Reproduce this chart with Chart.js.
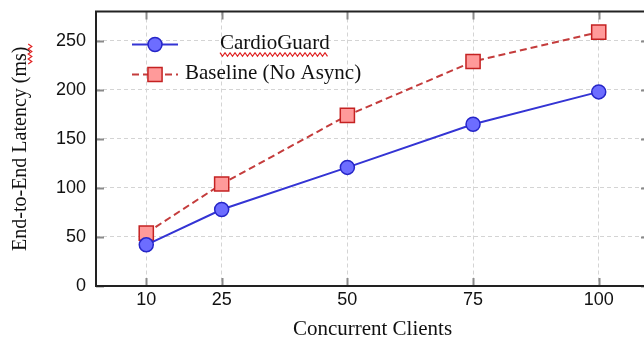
<!DOCTYPE html>
<html><head><meta charset="utf-8">
<script src="https://cdn.jsdelivr.net/npm/chart.js@4"></script>
<style>
html,body{margin:0;padding:0;overflow:hidden;background:#fff;width:644px;height:345px}
#wrap{position:absolute;left:0;top:0;width:662px;height:345px}
</style></head><body>
<div id="wrap"><canvas id="c" width="662" height="345"></canvas></div>
<script>
const clients = [10, 25, 50, 75, 100];
const cardioGuard = [42, 78, 121, 165, 198];
const baseline = [54, 104, 174, 229, 259];
const xTicks = [10, 25, 50, 75, 100];
const yTicks = [0, 50, 100, 150, 200, 250];
const seriesNames = ['CardioGuard', 'Baseline (No Async)'];
const xTitle = 'Concurrent Clients';
const yTitle = 'End-to-End Latency (ms)';

const SERIF = '"Liberation Serif", "Times New Roman", serif';
const SANS = '"Liberation Sans", Arial, sans-serif';

function wavy(ctx, x0, y0, len, vertical) {
  ctx.save();
  ctx.strokeStyle = '#e02020';
  ctx.lineWidth = 1.2;
  ctx.beginPath();
  const step = 2.5, amp = 1.8;
  for (let i = 0; i <= len / step; i++) {
    const d = i * step;
    const o = (i % 2 === 0) ? -amp : amp;
    const px = vertical ? x0 + o : x0 + d;
    const py = vertical ? y0 - d : y0 + o;
    if (i === 0) ctx.moveTo(px, py); else ctx.lineTo(px, py);
  }
  ctx.stroke();
  ctx.restore();
}

const decor = {
  id: 'decor',
  afterDraw(chart) {
    const ctx = chart.ctx;
    const a = chart.chartArea;
    const xs = chart.scales.x, ys = chart.scales.y;
    ctx.save();
    // inward tick marks
    ctx.strokeStyle = '#8a8a8a';
    ctx.lineWidth = 2;
    const tl = 8;
    ctx.beginPath();
    xTicks.forEach(v => {
      const px = Math.round(xs.getPixelForValue(v)) + 0.5;
      ctx.moveTo(px, a.bottom); ctx.lineTo(px, a.bottom - tl);
      ctx.moveTo(px, a.top); ctx.lineTo(px, a.top + tl);
    });
    yTicks.forEach(v => {
      const py = Math.round(ys.getPixelForValue(v)) + 0.5;
      ctx.moveTo(a.left, py); ctx.lineTo(a.left + tl, py);
      ctx.moveTo(a.right, py); ctx.lineTo(a.right - tl, py);
    });
    ctx.stroke();
    // spines
    ctx.strokeStyle = '#222';
    ctx.lineWidth = 2;
    ctx.strokeRect(a.left, a.top, a.right - a.left, a.bottom - a.top);

    // legend
    const ds = chart.data.datasets;
    const lx = a.left + 36, lw = 46;
    const rows = [a.top + 33, a.top + 63];
    ds.forEach((d, i) => {
      const y = rows[i];
      ctx.save();
      ctx.strokeStyle = d.borderColor;
      ctx.lineWidth = d.borderWidth;
      ctx.setLineDash(d.borderDash || []);
      ctx.beginPath();
      ctx.moveTo(lx, y); ctx.lineTo(lx + lw, y);
      ctx.stroke();
      ctx.setLineDash([]);
      ctx.fillStyle = d.pointBackgroundColor;
      ctx.strokeStyle = d.pointBorderColor;
      ctx.lineWidth = d.pointBorderWidth;
      Chart.helpers.drawPoint(ctx, {pointStyle: d.pointStyle, radius: d.pointRadius, rotation: 0, borderWidth: d.pointBorderWidth}, lx + lw / 2, y);
      ctx.restore();
    });
    ctx.fillStyle = '#111';
    ctx.font = '21px ' + SERIF;
    ctx.textBaseline = 'middle';
    ctx.fillText(seriesNames[0], a.left + 124, rows[0] - 1);
    ctx.fillText(seriesNames[1], a.left + 89, rows[1] - 1);
    const w0 = ctx.measureText(seriesNames[0]).width;
    wavy(ctx, a.left + 124, rows[0] + 10, w0, false);
    // wavy under "ms" of y title
    wavy(ctx, 30, 64, 22, true);
    ctx.restore();
  }
};

new Chart(document.getElementById('c'), {
  type: 'line',
  data: {
    datasets: [
      {
        label: seriesNames[0],
        data: clients.map((x, i) => ({x, y: cardioGuard[i]})),
        borderColor: '#3434d4',
        borderWidth: 2,
        pointStyle: 'circle',
        pointRadius: 7,
        pointBackgroundColor: '#6d6dff',
        pointBorderColor: '#2626c8',
        pointBorderWidth: 1.5,
        tension: 0
      },
      {
        label: seriesNames[1],
        data: clients.map((x, i) => ({x, y: baseline[i]})),
        borderColor: '#c43c3c',
        borderWidth: 2,
        borderDash: [7, 4],
        pointStyle: 'rect',
        pointRadius: 10,
        pointBackgroundColor: '#ff9a9a',
        pointBorderColor: '#c42222',
        pointBorderWidth: 1.5,
        tension: 0
      }
    ]
  },
  options: {
    responsive: false,
    animation: false,
    layout: {padding: {top: 11, right: 13, left: 0, bottom: 0}},
    plugins: {legend: {display: false}, tooltip: {enabled: false}},
    scales: {
      x: {
        type: 'linear', min: 0, max: 110,
        afterBuildTicks: s => { s.ticks = xTicks.map(v => ({value: v})); },
        afterFit: s => { s.height = 59; s.paddingLeft = 0; s.paddingRight = 0; },
        grid: {color: '#d4d4d4', lineWidth: 1, drawTicks: false},
        border: {display: false, dash: [4, 3]},
        ticks: {padding: 3, color: '#111', font: {family: SANS, size: 18}, maxRotation: 0},
        title: {display: true, text: xTitle, color: '#111', font: {family: SERIF, size: 21}, padding: {top: 0, bottom: 3}}
      },
      y: {
        type: 'linear', min: 0, max: 280,
        afterBuildTicks: s => { s.ticks = yTicks.map(v => ({value: v})); },
        afterFit: s => { s.width = 96; s.paddingTop = 0; s.paddingBottom = 0; },
        grid: {color: '#d4d4d4', lineWidth: 1, drawTicks: false},
        border: {display: false, dash: [4, 3]},
        ticks: {padding: 10, color: '#111', font: {family: SANS, size: 18}},
        title: {display: true, text: yTitle, color: '#111', font: {family: SERIF, size: 20}, padding: {top: 9, bottom: 0}}
      }
    }
  },
  plugins: [decor]
});
</script>
</body></html>
